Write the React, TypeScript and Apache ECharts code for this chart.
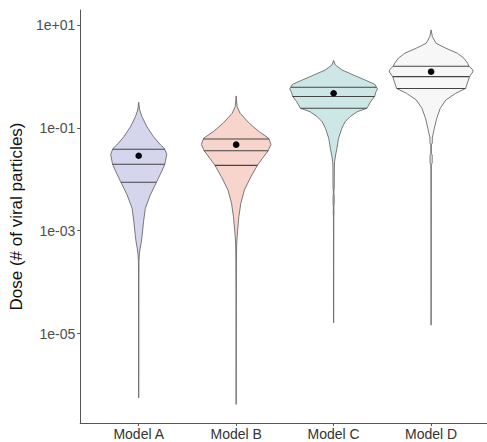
import React, { useEffect, useRef } from "react";
import * as echarts from "echarts";

const categories = ["Model A", "Model B", "Model C", "Model D"];

// [log10(dose), relative density]
const densityA: [number, number][] = [
  [-0.504, 0], [-0.654, 0.022], [-0.784, 0.074], [-0.979, 0.187], [-1.173, 0.337],
  [-1.335, 0.5], [-1.399, 0.584], [-1.516, 0.64], [-1.659, 0.607], [-1.71, 0.596],
  [-1.86, 0.517], [-2.049, 0.411], [-2.307, 0.263], [-2.566, 0.151], [-2.827, 0.11],
  [-3.086, 0.079], [-3.216, 0.06], [-3.339, 0.034], [-3.45, 0.016], [-3.6, 0.006],
  [-4.35, 0.003], [-5.3, 0.002], [-6.251, 0],
];
const densityB: [number, number][] = [
  [-0.381, 0], [-0.589, 0.022], [-0.718, 0.09], [-0.912, 0.299], [-1.076, 0.524],
  [-1.204, 0.742], [-1.325, 0.793], [-1.451, 0.726], [-1.593, 0.6], [-1.724, 0.488],
  [-1.951, 0.337], [-2.21, 0.187], [-2.469, 0.106], [-2.73, 0.061], [-2.988, 0.034],
  [-3.119, 0.022], [-3.28, 0.011], [-3.572, 0.006], [-4.35, 0.003], [-5.323, 0.002],
  [-6.379, 0],
];
const densityC: [number, number][] = [
  [0.309, 0], [0.222, 0.038], [0.125, 0.187], [0.027, 0.449], [-0.07, 0.712],
  [-0.154, 0.937], [-0.212, 0.978], [-0.245, 1.0], [-0.309, 0.96], [-0.387, 0.937],
  [-0.492, 0.843], [-0.621, 0.757], [-0.687, 0.539], [-0.784, 0.375], [-0.881, 0.263],
  [-1.01, 0.187], [-1.204, 0.112], [-1.399, 0.074], [-1.529, 0.045], [-1.659, 0.022],
  [-1.763, 0.016], [-2.152, 0.014], [-2.249, 0.004], [-2.346, 0.013], [-2.463, 0.013],
  [-2.541, 0.004], [-2.658, 0.01], [-2.716, 0.003], [-3.377, 0.002], [-4.792, 0],
];
const densityD: [number, number][] = [
  [0.903, 0], [0.772, 0.029], [0.644, 0.112], [0.547, 0.337], [0.449, 0.6],
  [0.352, 0.748], [0.255, 0.831], [0.196, 0.865], [0.125, 0.951], [0.086, 0.951],
  [-0.006, 0.876], [-0.103, 0.838], [-0.235, 0.787], [-0.329, 0.562], [-0.459, 0.337],
  [-0.621, 0.209], [-0.815, 0.128], [-1.01, 0.074], [-1.14, 0.042], [-1.18, 0.028],
  [-1.296, 0.026], [-1.33, 0.006], [-1.5, 0.006], [-1.529, 0.024], [-1.685, 0.024],
  [-1.72, 0.004], [-2.405, 0.002], [-4.837, 0],
];

// 25th, 50th, 75th percentile doses
const quantilesA = [0.00871, 0.0195, 0.0382];
const quantilesB = [0.0186, 0.0358, 0.0605];
const quantilesC = [0.239, 0.407, 0.614];
const quantilesD = [0.582, 0.986, 1.57];

const meanDose = [0.0286, 0.0469, 0.469, 1.23];

const yTickExponents = [-5, -3, -1, 1];

const densities = [densityA, densityB, densityC, densityD];
const quantiles = [quantilesA, quantilesB, quantilesC, quantilesD];
const fills = ["#d6d5ee", "#f7d5cc", "#cde7e7", "#f7f7f7"];
const HALF = 0.45;

function interp(prof: [number, number][], ly: number): number {
  for (let k = 0; k < prof.length - 1; k++) {
    const [y0, d0] = prof[k];
    const [y1, d1] = prof[k + 1];
    if ((ly <= y0 && ly >= y1) || (ly >= y0 && ly <= y1)) {
      const t = y1 === y0 ? 0 : (ly - y0) / (y1 - y0);
      return d0 + t * (d1 - d0);
    }
  }
  return 0;
}

function fmtExp(v: number): string {
  const e = Math.round(v);
  const sign = e >= 0 ? "+" : "-";
  const a = Math.abs(e);
  return "1e" + sign + (a < 10 ? "0" + a : String(a));
}

export default function App() {
  const ref = useRef<HTMLDivElement>(null);
  useEffect(() => {
    if (!ref.current) return;
    const chart = echarts.init(ref.current, undefined, { renderer: "svg" });
    const font = "Liberation Sans, Arial, sans-serif";
    chart.setOption({
      animation: false,
      backgroundColor: "#ffffff",
      grid: { left: 78, right: 0, top: 10, bottom: 19, containLabel: false },
      xAxis: {
        type: "value",
        min: -0.6,
        max: -0.6 + 409 / 98,
        splitLine: { show: false },
        axisLine: { show: true, onZero: false, lineStyle: { color: "#555", width: 1 } },
        axisTick: { show: true, customValues: [0, 1, 2, 3], length: 3, lineStyle: { color: "#555" } },
        axisLabel: {
          customValues: [0, 1, 2, 3],
          formatter: (v: number) => categories[Math.round(v)] ?? "",
          color: "#333",
          fontSize: 14,
          fontFamily: font,
          margin: 4,
        },
      },
      yAxis: {
        type: "value",
        min: -6.74,
        max: 1.29,
        splitLine: { show: false },
        axisLine: { show: true, onZero: false, lineStyle: { color: "#555", width: 1 } },
        axisTick: { show: true, customValues: yTickExponents, length: 3, lineStyle: { color: "#555" } },
        axisLabel: {
          customValues: yTickExponents,
          formatter: (v: number) => fmtExp(v),
          color: "#4d4d4d",
          fontSize: 14,
          fontFamily: font,
          margin: 5,
        },
        name: "Dose (# of viral particles)",
        nameLocation: "middle",
        nameGap: 49,
        nameRotate: 90,
        nameTextStyle: { color: "#111", fontSize: 17, fontFamily: font },
      },
      series: [
        {
          type: "custom",
          clip: false,
          data: categories.map((_, i) => [i]),
          encode: { x: 0 },
          renderItem: (params: any, api: any) => {
            const i = api.value(0) as number;
            const prof = densities[i];
            const right = prof.map(([ly, d]) => api.coord([i + HALF * d, ly]));
            const left = prof.slice().reverse().map(([ly, d]) => api.coord([i - HALF * d, ly]));
            const children: any[] = [
              {
                type: "polygon",
                shape: { points: right.concat(left) },
                style: { fill: fills[i], stroke: "#6a6a6a", lineWidth: 0.9 },
              },
            ];
            quantiles[i].forEach((q) => {
              const lq = Math.log10(q);
              const d = interp(prof, lq);
              const p0 = api.coord([i - HALF * d, lq]);
              const p1 = api.coord([i + HALF * d, lq]);
              children.push({
                type: "line",
                shape: { x1: p0[0], y1: p0[1], x2: p1[0], y2: p1[1] },
                style: { stroke: "#444", lineWidth: 1.1 },
              });
            });
            const m = api.coord([i, Math.log10(meanDose[i])]);
            children.push({
              type: "circle",
              shape: { cx: m[0], cy: m[1], r: 3.3 },
              style: { fill: "#000" },
            });
            return { type: "group", children };
          },
        },
      ],
    });
    return () => chart.dispose();
  }, []);
  return (
    <div
      ref={ref}
      style={{ position: "fixed", left: 0, top: 0, width: 487, height: 442 }}
    />
  );
}
